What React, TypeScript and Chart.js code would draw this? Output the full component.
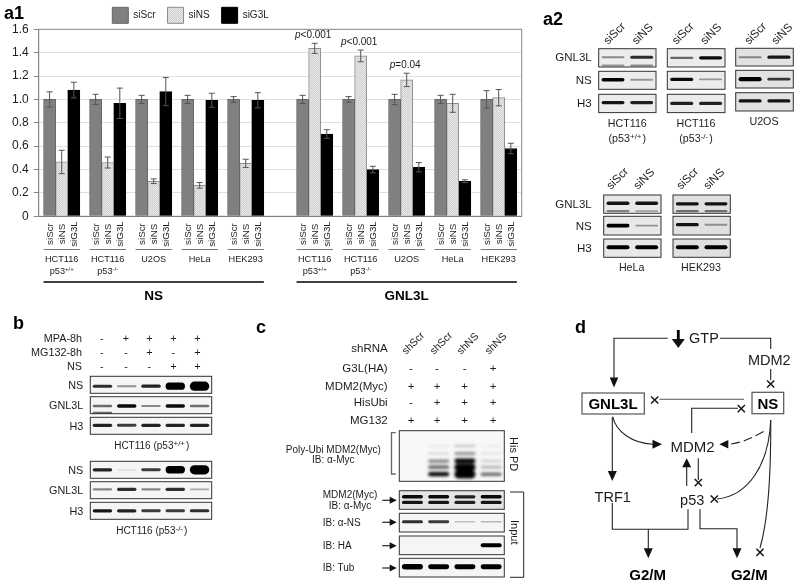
import React, { useEffect, useRef } from "react";
import { Chart, registerables } from "chart.js";
Chart.register(...registerables);

const FONT = '"Liberation Sans", Arial, Helvetica, sans-serif';
const INK = "#1c1c1c";

// ---------- panel a1 data ----------
const cellLines = ["", "HCT116", "", "HCT116", "", "U2OS", "", "HeLa", "", "HEK293", "", "", "HCT116", "", "HCT116", "", "U2OS", "", "HeLa", "", "HEK293", ""];
const p53Status = ["", "+/+", "", "-/-", "", "", "", "", "", "", "", "", "+/+", "", "-/-", "", "", "", "", "", "", ""];
const n = null;
const siScrValues = [n, 1, n, 1, n, 1, n, 1, n, 1, n, n, 1, n, 1, n, 1, n, 1, n, 1, n];
const siNSValues = [n, 0.465, n, 0.46, n, 0.3, n, 0.265, n, 0.453, n, n, 1.437, n, 1.372, n, 1.167, n, 0.967, n, 1.015, n];
const siG3LValues = [n, 1.08, n, 0.967, n, 1.067, n, 0.993, n, 0.993, n, n, 0.704, n, 0.4, n, 0.42, n, 0.3, n, 0.58, n];
const siScrErrors = [n, 0.065, n, 0.044, n, 0.035, n, 0.035, n, 0.024, n, n, 0.035, n, 0.024, n, 0.044, n, 0.035, n, 0.075, n];
const siNSErrors = [n, 0.1, n, 0.047, n, 0.02, n, 0.024, n, 0.035, n, n, 0.043, n, 0.05, n, 0.057, n, 0.077, n, 0.07, n];
const siG3LErrors = [n, 0.067, n, 0.13, n, 0.12, n, 0.06, n, 0.065, n, n, 0.037, n, 0.028, n, 0.04, n, 0.012, n, 0.045, n];
const seriesNames = ["siScr", "siNS", "siG3L"];
const pValues: [number, string][] = [[12, "<0.001"], [14, "<0.001"], [16, "=0.04"]];
const sections: [string, number, number][] = [["NS", 1, 9], ["GNL3L", 12, 20]];

// ---------- blot band intensities: [vertical position in blot, one intensity per lane] ----------
type Row = [number, number[]];
const a2WtGnl: Row[] = [[0.47, [0.35, 0.75]], [0.92, [0.3, 0.35]]];
const a2WtNs: Row[] = [[0.47, [0.95, 0.3]]];
const a2WtH3: Row[] = [[0.45, [0.85, 0.8]]];
const a2KoGnl: Row[] = [[0.5, [0.5, 0.9]]];
const a2KoNs: Row[] = [[0.45, [0.9, 0.3]]];
const a2KoH3: Row[] = [[0.5, [0.8, 0.8]]];
const a2UGnl: Row[] = [[0.5, [0.35, 0.85]]];
const a2UNs: Row[] = [[0.5, [1.1, 0.7]]];
const a2UH3: Row[] = [[0.45, [0.85, 0.85]]];
const a2HeGnl: Row[] = [[0.45, [0.85, 0.85]], [0.88, [0.4, 0.25]]];
const a2HeNs: Row[] = [[0.5, [0.95, 0.3]]];
const a2HeH3: Row[] = [[0.45, [1.05, 1.05]]];
const a2HekGnl: Row[] = [[0.48, [0.85, 0.85]], [0.88, [0.45, 0.45]]];
const a2HekNs: Row[] = [[0.45, [0.85, 0.3]]];
const a2HekH3: Row[] = [[0.45, [1.05, 1.05]]];
const bTopNs: Row[] = [[0.58, [0.75, 0.35, 0.8, 1.6, 1.9]]];
const bTopGnl: Row[] = [[0.55, [0.5, 0.9, 0.4, 0.9, 0.5]], [0.95, [0.5, 0, 0, 0, 0]]];
const bTopH3: Row[] = [[0.47, [0.8, 0.7, 0.8, 0.8, 0.8]]];
const bKoNs: Row[] = [[0.5, [0.8, 0.05, 0.7, 1.6, 1.9]]];
const bKoGnl: Row[] = [[0.45, [0.4, 0.75, 0.4, 0.75, 0.25]]];
const bKoH3: Row[] = [[0.5, [0.85, 0.8, 0.7, 0.7, 0.75]]];
const cPd: Row[] = [[0.3, [0, 0.06, 0.22, 0.03]], [0.45, [0, 0.14, 0.45, 0.07]], [0.6, [0, 0.5, 1.1, 0.18]], [0.72, [0, 0.6, 1.3, 0.3]], [0.86, [0, 1.0, 1.6, 0.6]]];
const cMdm: Row[] = [[0.33, [0.9, 0.9, 0.8, 0.9]], [0.63, [0.85, 0.85, 0.8, 0.85]]];
const cNs: Row[] = [[0.45, [0.75, 0.7, 0.15, 0.2]]];
const cHa: Row[] = [[0.5, [0, 0, 0, 1.05]]];
const cTub: Row[] = [[0.45, [1.3, 1.2, 1.2, 1.2]]];

const Blot = ({ x, y, w, h, rows, bg = "#f5f5f5", blur = "b1", spread = 1 }: any) => {
  const lanes = rows[0][1].length;
  const pitch = w / lanes;
  return (
    <g>
      <rect x={x} y={y} width={w} height={h} fill={bg} />
      <g filter={`url(#${blur})`}>
        {rows.flatMap(([yf, vals]: Row, r: number) =>
          vals.map((v, i) => {
            if (v <= 0) return null;
            const t = Math.min(h * 0.62, (1.1 + 2.6 * v + (v > 1 ? (v - 1) * 3.5 : 0)) * spread);
            return (
              <rect key={`${r}-${i}`} x={x + pitch * i + pitch * 0.1} y={y + h * yf - t / 2} width={pitch * 0.8} height={t}
                rx={t / 2} fill="#000" opacity={Math.min(1, 0.06 + v)} />
            );
          })
        )}
      </g>
      <rect x={x} y={y} width={w} height={h} fill="none" stroke="#333" strokeWidth={1} />
    </g>
  );
};

const T = ({ x, y, s = 11, a = "start", w = "normal", c = INK, rot, children }: any) => (
  <text x={x} y={y} fontSize={s} textAnchor={a} fontWeight={w} fill={c} fontFamily={FONT}
    transform={rot !== undefined ? `rotate(${rot} ${x} ${y})` : undefined}>{children}</text>
);
const Sup = ({ children, size = 7.5 }: any) => (
  <>
    <tspan dy={-3.5} fontSize={size}>{children}</tspan>
    <tspan dy={3.5}>{"\u200a"}</tspan>
  </>
);

const L = ({ d, c = "#222", sw = 1.1, dash }: any) => <path d={d} fill="none" stroke={c} strokeWidth={sw} strokeDasharray={dash} />;
const Head = ({ x, y, dir, len = 9.5, wid = 8.5 }: any) => {
  const p: Record<string, string> = {
    d: `${x},${y} ${x - wid / 2},${y - len} ${x + wid / 2},${y - len}`,
    u: `${x},${y} ${x - wid / 2},${y + len} ${x + wid / 2},${y + len}`,
    r: `${x},${y} ${x - len},${y - wid / 2} ${x - len},${y + wid / 2}`,
    l: `${x},${y} ${x + len},${y - wid / 2} ${x + len},${y + wid / 2}`,
  };
  return <polygon points={p[dir]} fill="#111" />;
};
const X = ({ x, y, r = 3.6 }: any) => <L d={`M${x - r} ${y - r}L${x + r} ${y + r}M${x - r} ${y + r}L${x + r} ${y - r}`} sw={1.4} c="#111" />;

const a2Blots = (x: number, ys: number[], hs: number[], rows: Row[][], w = 57.5, bg = "#f3f3f3") =>
  rows.map((r, i) => <Blot key={i} x={x} y={ys[i]} w={w} h={hs[i]} rows={r} bg={bg} />);

const SiPair = ({ a, b, y }: any) => (
  <>
    <T x={a} y={y} s={11.5} rot={-45}>siScr</T>
    <T x={b} y={y} s={11.5} rot={-45}>siNS</T>
  </>
);

const Overlay = () => {
  const bCols = [101.7, 126, 149.3, 173.3, 197.3];
  const bRows: [string, number, string[]][] = [
    ["MPA-8h", 341.5, ["-", "+", "+", "+", "+"]],
    ["MG132-8h", 355.5, ["-", "-", "+", "-", "+"]],
    ["NS", 370, ["-", "-", "-", "+", "+"]],
  ];
  const cCols = [411, 437, 464.7, 493];
  const cRows: [string, number, string[]][] = [
    ["G3L(HA)", 372, ["-", "-", "-", "+"]],
    ["MDM2(Myc)", 389.5, ["+", "+", "+", "+"]],
    ["HisUbi", 405.5, ["-", "+", "+", "+"]],
    ["MG132", 423.5, ["+", "+", "+", "+"]],
  ];
  return (
    <svg width={800} height={585} style={{ position: "absolute", left: 0, top: 0 }}>
      <defs>
        <filter id="b1" x="-10%" y="-80%" width="120%" height="260%"><feGaussianBlur stdDeviation="0.65" /></filter>
        <filter id="b2" x="-10%" y="-20%" width="120%" height="140%"><feGaussianBlur stdDeviation="1.8" /></filter>
      </defs>

      {/* a2 */}
      <T x={543} y={25} s={18} w="bold" c="#000">a2</T>
      <SiPair a={608} b={636.5} y={45} />
      <SiPair a={676.5} b={705} y={45} />
      <SiPair a={749} b={776} y={45} />
      <SiPair a={611} b={638} y={190} />
      <SiPair a={681} b={708} y={190} />
      {([["GNL3L", 61], ["NS", 84], ["H3", 107], ["GNL3L", 208], ["NS", 229.5], ["H3", 252]] as [string, number][]).map(([t, y], i) => (
        <T key={i} x={591.7} y={y} s={11.5} a="end">{t}</T>
      ))}
      {a2Blots(598.7, [48.7, 71.3, 94.3], [18.3, 18, 18.3], [a2WtGnl, a2WtNs, a2WtH3], 57.3, "#ececec")}
      {a2Blots(667.3, [48.7, 71.3, 94.3], [18.3, 18, 18.3], [a2KoGnl, a2KoNs, a2KoH3], 57.7, "#ececec")}
      {a2Blots(735.7, [48.3, 70.3, 92.7], [17.7, 17.7, 18.3], [a2UGnl, a2UNs, a2UH3], 57.6, "#e2e2e2")}
      {a2Blots(603.7, [195, 216.3, 239], [18.3, 18.7, 18.3], [a2HeGnl, a2HeNs, a2HeH3], 57.3, "#e8e8e8")}
      {a2Blots(673, [195, 216.3, 239], [18.3, 18.7, 18.3], [a2HekGnl, a2HekNs, a2HekH3], 57.3, "#e0e0e0")}
      <T x={627.3} y={127} s={10.7} a="middle">HCT116</T>
      <T x={627.3} y={142} s={10.7} a="middle">(p53<Sup size={8}>+/+</Sup>)</T>
      <T x={696} y={127} s={10.7} a="middle">HCT116</T>
      <T x={696} y={142} s={10.7} a="middle">(p53<Sup size={8}>-/-</Sup>)</T>
      <T x={764} y={125} s={10.7} a="middle">U2OS</T>
      <T x={631.7} y={271} s={10.7} a="middle">HeLa</T>
      <T x={701} y={271} s={10.7} a="middle">HEK293</T>

      {/* b */}
      <T x={13} y={329} s={18} w="bold" c="#000">b</T>
      {bRows.map(([t, y, marks]) => (
        <g key={t}>
          <T x={82} y={y} s={10.8} a="end">{t}</T>
          {marks.map((m, i) => <T key={i} x={bCols[i]} y={y} s={10.8} a="middle">{m}</T>)}
        </g>
      ))}
      {([["NS", 388.5], ["GNL3L", 408.8], ["H3", 429.5], ["NS", 473.5], ["GNL3L", 493.5], ["H3", 514.5]] as [string, number][]).map(([t, y], i) => (
        <T key={i} x={83.3} y={y} s={10.8} a="end">{t}</T>
      ))}
      <Blot x={90.3} y={376.3} w={121.4} h={17} rows={bTopNs} />
      <Blot x={90.3} y={396.7} w={121.4} h={17} rows={bTopGnl} />
      <Blot x={90.3} y={417.3} w={121.4} h={17} rows={bTopH3} />
      <T x={151.7} y={449} s={10} a="middle">HCT116 (p53<Sup size={8}>+/+</Sup>)</T>
      <Blot x={90.3} y={461.3} w={121.4} h={17} rows={bKoNs} />
      <Blot x={90.3} y={481.7} w={121.4} h={17} rows={bKoGnl} />
      <Blot x={90.3} y={502.3} w={121.4} h={17} rows={bKoH3} />
      <T x={151.7} y={534} s={10} a="middle">HCT116 (p53<Sup size={8}>-/-</Sup>)</T>

      {/* c */}
      <T x={256} y={333} s={18} w="bold" c="#000">c</T>
      <T x={387.7} y={352} s={11.5} a="end">shRNA</T>
      {["shScr", "shScr", "shNS", "shNS"].map((t, i) => (
        <T key={i} x={[406, 434, 461, 489][i]} y={355} s={10.5} rot={-45}>{t}</T>
      ))}
      {cRows.map(([t, y, marks]) => (
        <g key={t}>
          <T x={387.7} y={y} s={11.5} a="end">{t}</T>
          {marks.map((m, i) => <T key={i} x={cCols[i]} y={y} s={11.5} a="middle">{m}</T>)}
        </g>
      ))}
      <L d="M395.7 432.7H391.5V474H395.7" c="#666" sw={1.3} />
      <T x={333.3} y={453} s={10} a="middle">Poly-Ubi MDM2(Myc)</T>
      <T x={333.3} y={463} s={10} a="middle">IB: α-Myc</T>
      <Blot x={399.3} y={430.7} w={105} h={50.6} rows={cPd} blur="b2" bg="#f8f8f8" spread={1.15} />
      <T x={510} y={437} s={11} rot={90}>His PD</T>
      <Blot x={399.3} y={490.7} w={105} h={18.6} rows={cMdm} bg="#e4e4e4" />
      <Blot x={399.3} y={513.3} w={105} h={18.7} rows={cNs} />
      <Blot x={399.3} y={536} w={105} h={18.7} rows={cHa} />
      <Blot x={399.3} y={558.3} w={105} h={18.7} rows={cTub} />
      <T x={350} y={498} s={10} a="middle">MDM2(Myc)</T>
      <T x={350} y={509} s={10} a="middle">IB: α-Myc</T>
      <T x={322.7} y={526} s={10}>IB: α-NS</T>
      <T x={322.7} y={548.5} s={10}>IB: HA</T>
      <T x={322.7} y={571} s={10}>IB: Tub</T>
      {[500.3, 522.3, 545.7, 568].map((y) => (
        <g key={y}>
          <L d={`M382.3 ${y}H392`} sw={1.2} />
          <Head x={396.7} y={y} dir="r" len={7} wid={7} />
        </g>
      ))}
      <L d="M510 492H523.7V577.3H510" sw={1} />
      <T x={511} y={520} s={11} rot={90}>Input</T>

      {/* d */}
      <T x={575} y={333} s={18} w="bold" c="#000">d</T>
      <L d="M678.3 330V342" sw={2.8} c="#000" />
      <Head x={678.3} y={348} dir="d" len={9} wid={13} />
      <T x={689} y={343.3} s={14.5}>GTP</T>
      <L d="M667.7 338.3H614V380" />
      <Head x={614} y={387.5} dir="d" len={10} wid={8.5} />
      <L d="M720 338.3H770.7V349M770.7 369V380" />
      <T x={769.3} y={364.5} s={14.5} a="middle">MDM2</T>
      <X x={770.7} y={384} />
      <rect x={582} y={393} width={62.3} height={21} fill="none" stroke="#555" strokeWidth={1.2} />
      <T x={613} y={408.8} s={15} a="middle" w="bold" c="#000">GNL3L</T>
      <rect x={752} y={392.3} width={31.7} height={21.4} fill="none" stroke="#555" strokeWidth={1.2} />
      <T x={767.8} y={408.5} s={15} a="middle" w="bold" c="#000">NS</T>
      <X x={654.7} y={400} />
      <L d="M659.3 399.3H744" c="#555" />
      <L d="M691.7 433V408.3H738" />
      <X x={741.3} y={408.7} />
      <T x={692.5} y={452} s={15} a="middle">MDM2</T>
      <L d="M612.7 416.7C616 432 632 443 653 444.3" />
      <Head x={662} y={444.3} dir="r" len={9.5} wid={9} />
      <L d="M763.5 431.5C752 438 742 443 728 444.3" dash="9 4" />
      <Head x={719.3} y={444.3} dir="l" len={9} wid={8.5} />
      <L d="M612.3 417V472" />
      <Head x={612.3} y={481} dir="d" len={10} wid={9} />
      <T x={612.7} y={502} s={14.5} a="middle">TRF1</T>
      <L d="M698.3 458.3V480" />
      <X x={698.3} y={482.7} />
      <L d="M686.7 466V486" />
      <Head x={686.7} y={458.3} dir="u" len={9} wid={9} />
      <T x={692.2} y={504.5} s={14.5} a="middle">p53</T>
      <X x={714.3} y={499} />
      <L d="M770.7 420C769 465 748 496 717 499" />
      <L d="M770.7 420C771 470 768 520 760 548" />
      <X x={760} y={552.3} />
      <L d="M612.3 503V529.3H688V509.3" />
      <L d="M648.3 529.3V550" />
      <Head x={648.3} y={558.3} dir="d" len={10} wid={9} />
      <L d="M700 509.3V528.7H737V550" />
      <Head x={737} y={558.3} dir="d" len={10} wid={9} />
      <T x={647.7} y={579.5} s={15} a="middle" w="bold" c="#000">G2/M</T>
      <T x={749.3} y={579.5} s={15} a="middle" w="bold" c="#000">G2/M</T>
    </svg>
  );
};

function dither(a: string, b: string) {
  const c = document.createElement("canvas");
  c.width = c.height = 2;
  const g = c.getContext("2d")!;
  g.fillStyle = a; g.fillRect(0, 0, 2, 2);
  g.fillStyle = b; g.fillRect(0, 0, 1, 1); g.fillRect(1, 1, 1, 1);
  return g.createPattern(c, "repeat")!;
}

const panelA1Plugin = {
  id: "panelA1",
  beforeLayout(chart: any) {
    // the legend sits above the plot without taking room from it
    const lg = chart.legend;
    if (lg && !lg.__flat) {
      const fit = lg.fit.bind(lg);
      lg.fit = () => { fit(); lg.height = 0; };
      lg.__flat = true;
    }
  },
  afterLayout(chart: any) {
    const lg = chart.legend;
    if (lg) { lg.left = 100.3; lg.right = 520; lg.top = -4.7; }
  },
  afterDatasetsDraw(chart: any) {
    const { ctx, scales: { y } } = chart;
    const errs = [siScrErrors, siNSErrors, siG3LErrors];
    ctx.save();
    ctx.strokeStyle = "#555";
    ctx.lineWidth = 1;
    chart.data.datasets.forEach((ds: any, d: number) => {
      chart.getDatasetMeta(d).data.forEach((bar: any, i: number) => {
        const e = errs[d][i];
        const v = ds.data[i];
        if (e == null || v == null) return;
        const hi = y.getPixelForValue(v + e), lo = y.getPixelForValue(v - e);
        ctx.beginPath();
        ctx.moveTo(bar.x, hi); ctx.lineTo(bar.x, lo);
        ctx.moveTo(bar.x - 3, hi); ctx.lineTo(bar.x + 3, hi);
        ctx.moveTo(bar.x - 3, lo); ctx.lineTo(bar.x + 3, lo);
        ctx.stroke();
      });
    });
    ctx.restore();
  },
  afterDraw(chart: any) {
    const { ctx, chartArea: ca, scales: { y } } = chart;
    const metas = [0, 1, 2].map((d) => chart.getDatasetMeta(d));
    const half = 6.05;
    ctx.save();
    ctx.textBaseline = "alphabetic";
    ctx.strokeStyle = "#888";
    ctx.lineWidth = 1;
    ctx.strokeRect(ca.left, ca.top, ca.right - ca.left, ca.bottom - ca.top);
    ctx.fillStyle = INK;

    ctx.font = `bold 18px ${FONT}`;
    ctx.textAlign = "left";
    ctx.fillStyle = "#000";
    ctx.fillText("a1", 4, 19);
    ctx.fillStyle = INK;

    cellLines.forEach((name, i) => {
      if (!name) return;
      metas.forEach((m, d) => {
        ctx.save();
        ctx.translate(m.data[i].x + 3.3, 234);
        ctx.rotate(-Math.PI / 2);
        ctx.font = `9.8px ${FONT}`;
        ctx.textAlign = "center";
        ctx.fillText(seriesNames[d], 0, 0);
        ctx.restore();
      });
      const left = metas[0].data[i].x - half, right = metas[2].data[i].x + half;
      ctx.strokeStyle = "#777";
      ctx.lineWidth = 1;
      ctx.beginPath(); ctx.moveTo(left, 249.5); ctx.lineTo(right, 249.5); ctx.stroke();
      const cx = (left + right) / 2;
      ctx.font = `9.2px ${FONT}`;
      ctx.textAlign = "center";
      ctx.fillText(name, cx, 262);
      if (p53Status[i]) {
        ctx.font = `9.2px ${FONT}`;
        const base = "p53";
        const w1 = ctx.measureText(base).width;
        ctx.font = `6px ${FONT}`;
        const w2 = ctx.measureText(p53Status[i]).width;
        ctx.textAlign = "left";
        const sx = cx - (w1 + w2) / 2;
        ctx.font = `9.2px ${FONT}`;
        ctx.fillText(base, sx, 274);
        ctx.font = `6px ${FONT}`;
        ctx.fillText(p53Status[i], sx + w1, 271);
      }
    });

    sections.forEach(([label, a, b]) => {
      const left = metas[0].data[a].x - half, right = metas[2].data[b].x + half;
      ctx.strokeStyle = "#000";
      ctx.lineWidth = 1.5;
      ctx.beginPath(); ctx.moveTo(left, 282); ctx.lineTo(right, 282); ctx.stroke();
      ctx.font = `bold 13.5px ${FONT}`;
      ctx.textAlign = "center";
      ctx.fillStyle = "#000";
      ctx.fillText(label, (left + right) / 2, 300);
      ctx.fillStyle = INK;
    });

    pValues.forEach(([i, text]) => {
      const top = y.getPixelForValue(siNSValues[i]! + siNSErrors[i]!);
      const x = metas[1].data[i].x;
      ctx.font = `italic 10px ${FONT}`;
      const w1 = ctx.measureText("p").width;
      ctx.font = `10px ${FONT}`;
      const w2 = ctx.measureText(text).width;
      const sx = x - 1.5 - (w1 + w2) / 2;
      const by = top - 5.5;
      ctx.textAlign = "left";
      ctx.font = `italic 10px ${FONT}`;
      ctx.fillText("p", sx, by);
      ctx.font = `10px ${FONT}`;
      ctx.fillText(text, sx + w1, by);
    });
    ctx.restore();
  },
};

export default function App() {
  const ref = useRef<HTMLCanvasElement>(null);
  useEffect(() => {
    const chart = new Chart(ref.current!, {
      type: "bar",
      data: {
        labels: cellLines,
        datasets: [
          { label: seriesNames[0], data: siScrValues, backgroundColor: "#808080", borderColor: "#666", borderWidth: 1 },
          { label: seriesNames[1], data: siNSValues, backgroundColor: dither("#d2d2d2", "#e6e6e6"), borderColor: "#8c8c8c", borderWidth: 1 },
          { label: seriesNames[2], data: siG3LValues, backgroundColor: "#000", borderColor: "#000", borderWidth: 1 },
        ],
      },
      options: {
        responsive: false,
        animation: false,
        layout: { padding: { top: 29.3, right: 278.3, left: 0, bottom: 0 } },
        datasets: { bar: { barThickness: 12.1 } },
        plugins: {
          tooltip: { enabled: false },
          legend: {
            position: "top",
            align: "start",
            labels: {
              boxWidth: 16, boxHeight: 16, padding: 12, color: INK,
              font: { family: FONT, size: 10 },
            },
          },
        },
        scales: {
          x: {
            type: "category",
            offset: false,
            grid: { display: false },
            border: { color: "#666" },
            ticks: { display: false },
            afterFit(s: any) { s.height = 368.7; },
          },
          y: {
            min: 0,
            max: 1.6,
            grid: { color: "#e0e0e0", tickColor: "#888", tickLength: 5 },
            border: { color: "#888" },
            ticks: {
              stepSize: 0.2, padding: 5, color: INK,
              font: { family: FONT, size: 12 },
              callback: (v: any) => (Number(v) === 0 ? "0" : Number(v).toFixed(1)),
            },
            afterFit(s: any) { s.width = 38.7; },
          },
        },
      } as any,
      plugins: [panelA1Plugin],
    });
    return () => chart.destroy();
  }, []);
  return (
    <div style={{ position: "absolute", left: 0, top: 0, width: 800, height: 585, background: "#fff" }}>
      <canvas ref={ref} width={800} height={585} style={{ display: "block" }} />
      <Overlay />
    </div>
  );
}
